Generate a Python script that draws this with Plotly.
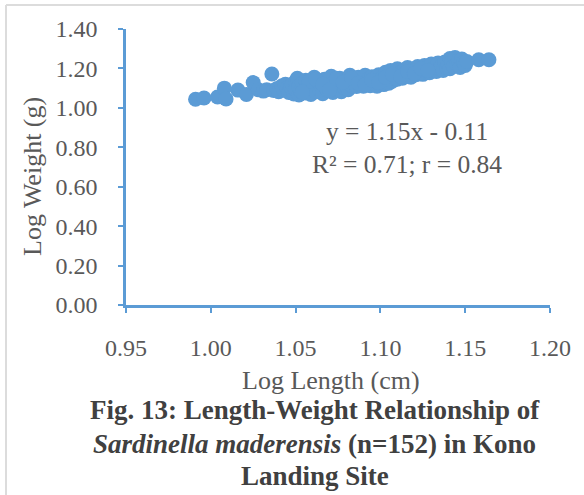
import plotly.graph_objects as go

# Log-transformed length (cm) and weight (g) of Sardinella maderensis, n = 152
log_length = [
    0.991, 0.996, 1.004, 1.008, 1.009, 1.016, 1.021, 1.025, 1.028,
    1.031, 1.033, 1.036, 1.037, 1.039, 1.040, 1.042, 1.043, 1.044, 1.045,
    1.046, 1.047, 1.048, 1.049, 1.050, 1.050,
    1.051, 1.052, 1.052, 1.053, 1.054, 1.055, 1.056, 1.056, 1.057, 1.058,
    1.059, 1.060, 1.061, 1.062, 1.063, 1.064, 1.065, 1.066, 1.067, 1.068,
    1.069, 1.070, 1.071, 1.072, 1.073, 1.074, 1.075, 1.076, 1.077, 1.078,
    1.079, 1.080,
    1.081, 1.082, 1.083, 1.084, 1.085, 1.086, 1.087, 1.088, 1.089, 1.090,
    1.091, 1.092, 1.093, 1.094, 1.095, 1.096, 1.097, 1.098, 1.099, 1.100,
    1.101, 1.102, 1.103, 1.104, 1.105, 1.105, 1.106, 1.107, 1.108, 1.109,
    1.110, 1.110,
    1.111, 1.112, 1.113, 1.114, 1.115, 1.116, 1.117, 1.118, 1.119, 1.120,
    1.121, 1.122, 1.123, 1.124, 1.125, 1.126, 1.127, 1.128, 1.129, 1.130,
    1.131, 1.132, 1.133, 1.134, 1.135, 1.136, 1.137, 1.138, 1.139, 1.140,
    1.141, 1.141, 1.142, 1.143, 1.144, 1.145, 1.146, 1.147, 1.148, 1.149,
    1.150, 1.151, 1.158, 1.164,
    1.058, 1.062, 1.066, 1.070, 1.074, 1.078, 1.083, 1.087, 1.091, 1.095,
    1.099, 1.103, 1.107, 1.112, 1.116, 1.120, 1.124, 1.128, 1.054,
]
log_weight = [
    1.044, 1.050, 1.055, 1.100, 1.045, 1.090, 1.068, 1.128, 1.092,
    1.085, 1.092, 1.172, 1.088, 1.098, 1.082, 1.112, 1.090, 1.120, 1.100,
    1.078, 1.108, 1.118, 1.070, 1.092, 1.135,
    1.150, 1.065, 1.110, 1.085, 1.125, 1.100, 1.075, 1.140, 1.092, 1.118,
    1.068, 1.105, 1.155, 1.082, 1.130, 1.095, 1.112, 1.072, 1.145, 1.102,
    1.088, 1.125, 1.160, 1.078, 1.110, 1.135, 1.095, 1.150, 1.082, 1.118,
    1.100, 1.140,
    1.092, 1.165, 1.112, 1.128, 1.145, 1.108, 1.155, 1.120, 1.138, 1.110,
    1.165, 1.130, 1.148, 1.112, 1.158, 1.125, 1.140, 1.110, 1.168, 1.132,
    1.150, 1.118, 1.180, 1.140, 1.160, 1.125, 1.190, 1.135, 1.152, 1.172,
    1.145, 1.198,
    1.165, 1.180, 1.150, 1.192, 1.160, 1.205, 1.172, 1.155, 1.185, 1.198,
    1.168, 1.210, 1.178, 1.190, 1.170, 1.215, 1.182, 1.200, 1.178, 1.222,
    1.190, 1.205, 1.185, 1.228, 1.198, 1.212, 1.190, 1.232, 1.205, 1.218,
    1.250, 1.198, 1.235, 1.210, 1.255, 1.222, 1.240, 1.205, 1.248, 1.228,
    1.215, 1.235, 1.244, 1.244,
    1.135, 1.145, 1.120, 1.090, 1.150, 1.130, 1.150, 1.125, 1.118, 1.140,
    1.128, 1.155, 1.170, 1.160, 1.185, 1.175, 1.200, 1.190, 1.080,
]

x_ticks = [0.95, 1.00, 1.05, 1.10, 1.15, 1.20]
y_ticks = [0.00, 0.20, 0.40, 0.60, 0.80, 1.00, 1.20, 1.40]

regression_text = "y = 1.15x - 0.11<br>R² = 0.71; r = 0.84"
caption_lines = [
    "<b>Fig. 13: Length-Weight Relationship of</b>",
    "<b><i>Sardinella maderensis</i> (n=152) in Kono</b>",
    "<b>Landing Site</b>",
]

BLUE = "#5B9BD5"
GREY = "#595959"
SERIF = "Liberation Serif, Times New Roman, serif"

W, H = 584, 495
L, R, T, B = 126, 34, 29, 190
PW, PH = W - L - R, H - T - B


def px_x(px):
    return (px - L) / PW


def px_y(py):
    return (H - B - py) / PH


def label(text, px, py, size, color=GREY, angle=0):
    fig.add_annotation(text=text, xref="paper", yref="paper",
                       x=px_x(px), y=px_y(py), xanchor="center",
                       yanchor="middle", showarrow=False, align="center",
                       textangle=angle,
                       font=dict(family=SERIF, size=size, color=color))


fig = go.Figure()
fig.add_trace(go.Scatter(
    x=log_length, y=log_weight, mode="markers",
    marker=dict(color=BLUE, size=15, line=dict(width=0)),
    showlegend=False,
))

axis_common = dict(
    showline=True, linecolor=BLUE, linewidth=2.5,
    ticks="outside", tickcolor=BLUE, ticklen=5, tickwidth=2,
    showgrid=False, zeroline=False, tickformat=".2f",
    tickfont=dict(family=SERIF, size=24, color=GREY),
)

fig.update_layout(
    width=W, height=H,
    margin=dict(l=L, r=R, t=T, b=B),
    paper_bgcolor="white", plot_bgcolor="white",
    xaxis=dict(range=[0.95, 1.20], tickvals=x_ticks, ticklabelstandoff=14,
               **axis_common),
    yaxis=dict(range=[0, 1.40], tickvals=y_ticks, ticklabelstandoff=16,
               **axis_common),
)

# axis titles
label("Log Length (cm)", 330.5, 380, 26)
label("Log Weight (g)", 33, 177, 26, angle=-90)

# regression equation
label(regression_text, 407, 148, 25.5)

# figure caption
for line, py in zip(caption_lines, [410, 444, 476]):
    label(line, 314.5, py, 27, color="#404040")

# frame edges at the top and left of the figure
fig.add_shape(type="line", xref="paper", yref="paper",
              x0=px_x(6), x1=px_x(W + 5), y0=px_y(5), y1=px_y(5),
              line=dict(color="#DCDCDC", width=2))
fig.add_shape(type="line", xref="paper", yref="paper",
              x0=px_x(6), x1=px_x(6), y0=px_y(5), y1=px_y(H + 5),
              line=dict(color="#DCDCDC", width=2))

fig.write_html("out.html")
